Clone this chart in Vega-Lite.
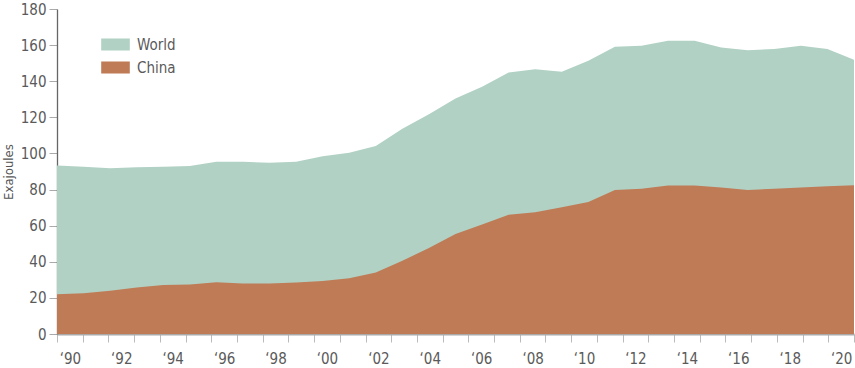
{
  "$schema": "https://vega.github.io/schema/vega-lite/v6.json",
  "width": 797,
  "height": 325,
  "autosize": "none",
  "padding": {"left": 57, "top": 9, "right": 1, "bottom": 34},
  "config": {"view": {"stroke": null}, "font": "DejaVu Sans Condensed"},
  "data": {
    "values": [
      {"year": 1990, "series": "World", "value": 93.3},
      {"year": 1991, "series": "World", "value": 92.6},
      {"year": 1992, "series": "World", "value": 91.8},
      {"year": 1993, "series": "World", "value": 92.4},
      {"year": 1994, "series": "World", "value": 92.6},
      {"year": 1995, "series": "World", "value": 93.1},
      {"year": 1996, "series": "World", "value": 95.4},
      {"year": 1997, "series": "World", "value": 95.4},
      {"year": 1998, "series": "World", "value": 94.8},
      {"year": 1999, "series": "World", "value": 95.4},
      {"year": 2000, "series": "World", "value": 98.5},
      {"year": 2001, "series": "World", "value": 100.4},
      {"year": 2002, "series": "World", "value": 104.1},
      {"year": 2003, "series": "World", "value": 113.7},
      {"year": 2004, "series": "World", "value": 121.7},
      {"year": 2005, "series": "World", "value": 130.4},
      {"year": 2006, "series": "World", "value": 137.0},
      {"year": 2007, "series": "World", "value": 144.8},
      {"year": 2008, "series": "World", "value": 146.7},
      {"year": 2009, "series": "World", "value": 145.2},
      {"year": 2010, "series": "World", "value": 151.3},
      {"year": 2011, "series": "World", "value": 159.1},
      {"year": 2012, "series": "World", "value": 159.6},
      {"year": 2013, "series": "World", "value": 162.4},
      {"year": 2014, "series": "World", "value": 162.4},
      {"year": 2015, "series": "World", "value": 158.7},
      {"year": 2016, "series": "World", "value": 157.2},
      {"year": 2017, "series": "World", "value": 157.8},
      {"year": 2018, "series": "World", "value": 159.6},
      {"year": 2019, "series": "World", "value": 157.8},
      {"year": 2020, "series": "World", "value": 151.9},
      {"year": 1990, "series": "China", "value": 22.0},
      {"year": 1991, "series": "China", "value": 22.6},
      {"year": 1992, "series": "China", "value": 23.9},
      {"year": 1993, "series": "China", "value": 25.7},
      {"year": 1994, "series": "China", "value": 27.2},
      {"year": 1995, "series": "China", "value": 27.4},
      {"year": 1996, "series": "China", "value": 28.7},
      {"year": 1997, "series": "China", "value": 28.0},
      {"year": 1998, "series": "China", "value": 28.0},
      {"year": 1999, "series": "China", "value": 28.5},
      {"year": 2000, "series": "China", "value": 29.4},
      {"year": 2001, "series": "China", "value": 30.9},
      {"year": 2002, "series": "China", "value": 34.1},
      {"year": 2003, "series": "China", "value": 40.6},
      {"year": 2004, "series": "China", "value": 47.6},
      {"year": 2005, "series": "China", "value": 55.4},
      {"year": 2006, "series": "China", "value": 60.6},
      {"year": 2007, "series": "China", "value": 66.1},
      {"year": 2008, "series": "China", "value": 67.4},
      {"year": 2009, "series": "China", "value": 70.2},
      {"year": 2010, "series": "China", "value": 73.1},
      {"year": 2011, "series": "China", "value": 79.8},
      {"year": 2012, "series": "China", "value": 80.4},
      {"year": 2013, "series": "China", "value": 82.2},
      {"year": 2014, "series": "China", "value": 82.2},
      {"year": 2015, "series": "China", "value": 81.1},
      {"year": 2016, "series": "China", "value": 79.8},
      {"year": 2017, "series": "China", "value": 80.4},
      {"year": 2018, "series": "China", "value": 81.1},
      {"year": 2019, "series": "China", "value": 81.9},
      {"year": 2020, "series": "China", "value": 82.4}
    ]
  },
  "encoding": {
    "y": {
      "field": "value", "type": "quantitative", "stack": null,
      "scale": {"domain": [0, 180], "nice": false},
      "axis": {
        "values": [0, 20, 40, 60, 80, 100, 120, 140, 160, 180],
        "labelOverlap": false,
        "title": "Exajoules", "titleFont": "DejaVu Sans Condensed", "titleFontSize": 13, "titleFontWeight": "normal", "titleColor": "#555555", "titlePadding": 5,
        "labelFont": "DejaVu Sans Condensed", "labelFontSize": 15, "labelColor": "#5a5a5a", "labelPadding": 3,
        "grid": false, "domainColor": "#666666", "domainWidth": 1.3, "tickColor": "#aaaaaa", "tickSize": 8
      }
    }
  },
  "layer": [
    {
      "transform": [{"filter": "datum.series === 'World'"}],
      "mark": {"type": "area", "interpolate": "linear"},
      "encoding": {
        "x": {"field": "year", "type": "quantitative", "scale": {"domain": [1990, 2020], "nice": false, "zero": false}, "axis": null},
        "color": {
          "field": "series", "type": "nominal",
          "scale": {"domain": ["World", "China"], "range": ["#b1d1c4", "#bf7b56"]},
          "legend": {
            "title": null, "orient": "none", "legendX": 44, "legendY": 21,
            "symbolType": "M-1,-0.42H1V0.42H-1Z", "symbolSize": 818, "symbolStrokeWidth": 0, "symbolOpacity": 1,
            "labelFont": "DejaVu Sans Condensed", "labelFontSize": 15, "labelColor": "#5a5a5a", "labelOffset": 7, "rowPadding": -6
          }
        }
      }
    },
    {
      "transform": [{"filter": "datum.series === 'China'"}],
      "mark": {"type": "area", "interpolate": "linear"},
      "encoding": {
        "x": {"field": "year", "type": "quantitative", "scale": {"domain": [1990, 2020], "nice": false, "zero": false}, "axis": null},
        "color": {"field": "series", "type": "nominal"}
      }
    },
    {
      "transform": [{"filter": "datum.series === 'World'"}],
      "mark": {"type": "tick", "opacity": 0},
      "encoding": {
        "x": {
          "field": "year", "type": "ordinal",
          "scale": {"paddingInner": 0, "paddingOuter": 0},
          "axis": {
            "orient": "bottom", "title": null, "tickBand": "extent",
            "labelExpr": "datum.value % 2 == 0 ? '‘' + slice(datum.label, 2) : ''",
            "labelAngle": 0, "labelFont": "DejaVu Sans Condensed", "labelFontSize": 15, "labelColor": "#5a5a5a", "labelPadding": 9,
            "domainColor": "#aaaaaa", "domainWidth": 2,
            "tickColor": "#bbbbbb", "tickSize": 8,
            "encode": {
              "ticks": {
                "update": {
                  "y2": {"signal": "datum.value % 10 == 0 && datum.value > 1990 ? 15 : 8"},
                  "stroke": {"signal": "datum.value % 10 == 0 && datum.value > 1990 ? '#888888' : '#bbbbbb'"}
                }
              }
            }
          }
        }
      }
    }
  ],
  "resolve": {"scale": {"x": "independent"}}
}
